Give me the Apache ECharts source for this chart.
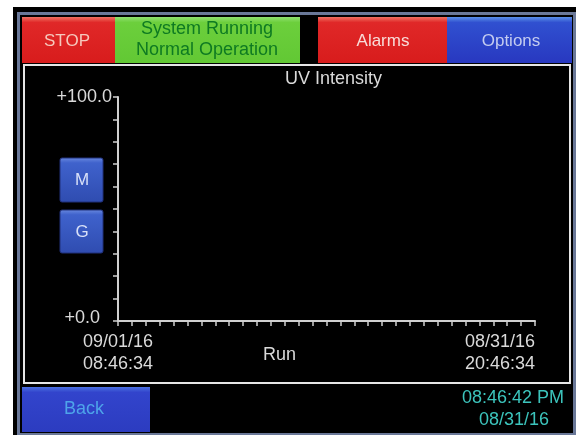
<!DOCTYPE html>
<html>
<head>
<meta charset="utf-8">
<script src="https://cdn.jsdelivr.net/npm/echarts@6/dist/echarts.min.js"></script>
<style>
html,body{margin:0;padding:0;background:#fff;}
#c{width:576px;height:435px;}
</style>
</head>
<body>
<div id="c"></div>
<script>
// ---- data ----
const chartTitle = 'UV Intensity';
const xAxisName = 'Run';
const xTickLabels = ['09/01/16\n08:46:34', '08/31/16\n20:46:34'];
const yTickLabels = ['+0.0', '+100.0'];
const xRange = [0, 30];      // 30 tick divisions along the run
const yRange = [0, 100];     // 10 tick divisions
const uvIntensity = [];      // no trace recorded on screen

const FONT = '"Liberation Sans", Arial, sans-serif';
const font = (s) => s + 'px ' + FONT;

function vgrad(top, mid, bot) {
  return new echarts.graphic.LinearGradient(0, 0, 0, 1, [
    {offset: 0, color: top}, {offset: 0.12, color: mid}, {offset: 1, color: bot}
  ]);
}

const chart = echarts.init(document.getElementById('c'), null, {renderer: 'canvas'});

const graphics = [
  // device frame
  {type: 'rect', z: -20, shape: {x: 13, y: 7, width: 563, height: 428}, style: {fill: '#000'}},
  {type: 'rect', z: -19, shape: {x: 17, y: 12, width: 559, height: 423}, style: {fill: '#6a7898'}},
  {type: 'rect', z: -18, shape: {x: 20, y: 15, width: 553, height: 418}, style: {fill: '#000'}},
  // top buttons
  {type: 'rect', z: -17, shape: {x: 22, y: 17, width: 93, height: 46}, style: {fill: vgrad('#f07060', '#e02828', '#d81c1c')}},
  {type: 'rect', z: -17, shape: {x: 115, y: 17, width: 185, height: 46}, style: {fill: vgrad('#90e070', '#6ccf3c', '#62c834')}},
  {type: 'rect', z: -17, shape: {x: 318, y: 17, width: 129, height: 46}, style: {fill: vgrad('#f07060', '#e02828', '#d81c1c')}},
  {type: 'rect', z: -17, shape: {x: 447, y: 17, width: 125, height: 46}, style: {fill: vgrad('#5a90e8', '#3050d0', '#2838c0')}},
  // chart panel
  {type: 'rect', z: -16, shape: {x: 24, y: 65, width: 546, height: 318}, style: {fill: '#000', stroke: '#e6e6e6', lineWidth: 2}},
  // M / G buttons
  {type: 'rect', z: -15, shape: {x: 60, y: 158, width: 43, height: 44, r: 2}, style: {fill: vgrad('#6a8ae0', '#3f62cc', '#2f4cb0'), stroke: '#20307a', lineWidth: 1}},
  {type: 'rect', z: -15, shape: {x: 60, y: 210, width: 43, height: 43, r: 2}, style: {fill: vgrad('#6a8ae0', '#3f62cc', '#2f4cb0'), stroke: '#20307a', lineWidth: 1}},
  // bottom Back button
  {type: 'rect', z: -17, shape: {x: 22, y: 387, width: 128, height: 45}, style: {fill: vgrad('#4a70e0', '#3244cc', '#2c3cc0')}},
  // texts
  {type: 'text', z: 50, x: 67, y: 41, style: {text: 'STOP', fill: '#f6c8bc', font: font(17), textAlign: 'center', textVerticalAlign: 'middle'}},
  {type: 'text', z: 50, x: 207, y: 40, style: {text: 'System Running\nNormal Operation', fill: '#0e7a22', font: font(18), lineHeight: 21, textAlign: 'center', textVerticalAlign: 'middle'}},
  {type: 'text', z: 50, x: 383, y: 41, style: {text: 'Alarms', fill: '#f8dcd8', font: font(17), textAlign: 'center', textVerticalAlign: 'middle'}},
  {type: 'text', z: 50, x: 511, y: 41, style: {text: 'Options', fill: '#c4ccf0', font: font(17), textAlign: 'center', textVerticalAlign: 'middle'}},
  {type: 'text', z: 50, x: 82, y: 180, style: {text: 'M', fill: '#d8e0f8', font: font(17), textAlign: 'center', textVerticalAlign: 'middle'}},
  {type: 'text', z: 50, x: 82, y: 232, style: {text: 'G', fill: '#d8e0f8', font: font(17), textAlign: 'center', textVerticalAlign: 'middle'}},
  {type: 'text', z: 50, x: 84, y: 409, style: {text: 'Back', fill: '#4ea4ea', font: font(18), textAlign: 'center', textVerticalAlign: 'middle'}},
  {type: 'text', z: 50, x: 513, y: 398, style: {text: '08:46:42 PM', fill: '#3cc4bc', font: font(18), textAlign: 'center', textVerticalAlign: 'middle'}},
  {type: 'text', z: 50, x: 514, y: 420, style: {text: '08/31/16', fill: '#3cc4bc', font: font(18), textAlign: 'center', textVerticalAlign: 'middle'}}
];

const axisColor = '#d0d0d0';
const labelColor = '#dadada';

chart.setOption({
  backgroundColor: '#ffffff',
  animation: false,
  graphic: graphics,
  title: [
    {text: chartTitle, left: 285, top: 70, padding: 0, textStyle: {color: labelColor, fontSize: 18, fontWeight: 'normal', fontFamily: FONT}},
    {text: xAxisName, left: 263, top: 346, padding: 0, textStyle: {color: labelColor, fontSize: 18, fontWeight: 'normal', fontFamily: FONT}}
  ],
  grid: {left: 118, right: 41, top: 97, bottom: 114, containLabel: false},
  xAxis: {
    type: 'value', min: xRange[0], max: xRange[1], interval: 1,
    axisLine: {show: true, lineStyle: {color: axisColor, width: 2}},
    axisTick: {show: true, length: 5, lineStyle: {color: axisColor, width: 1.5}},
    splitLine: {show: false},
    axisLabel: {
      color: labelColor, fontSize: 18, fontFamily: FONT, lineHeight: 22, margin: 10,
      showMinLabel: true, showMaxLabel: true, alignMinLabel: 'center', alignMaxLabel: 'right',
      formatter: (v) => v === xRange[0] ? xTickLabels[0] : (v === xRange[1] ? xTickLabels[1] : '')
    }
  },
  yAxis: {
    type: 'value', min: yRange[0], max: yRange[1], interval: 10,
    axisLine: {show: true, lineStyle: {color: axisColor, width: 2}},
    axisTick: {show: true, length: 5, lineStyle: {color: axisColor, width: 1.5}},
    splitLine: {show: false},
    axisLabel: {
      color: labelColor, fontSize: 18, fontFamily: FONT, margin: 6,
      formatter: (v) => v === yRange[1] ? yTickLabels[1] : (v === yRange[0] ? '{b|' + yTickLabels[0] + '}' : ''),
      rich: {b: {color: labelColor, fontSize: 18, fontFamily: FONT, padding: [0, 12, 6, 0]}}
    }
  },
  series: [{
    type: 'line', name: chartTitle, data: uvIntensity, showSymbol: false,
    lineStyle: {color: '#40ff40', width: 1.5}
  }]
});
</script>
</body>
</html>
